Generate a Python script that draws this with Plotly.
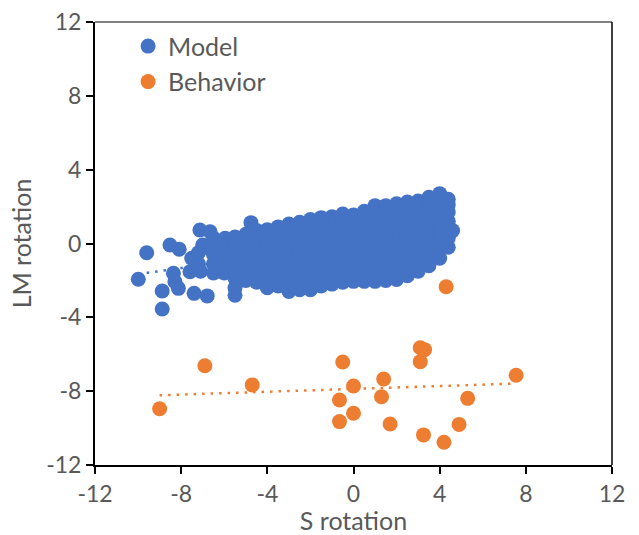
import numpy as np
import plotly.graph_objects as go

# ---- data ----
model_s = [
    -9.99, -9.60, -8.52, -8.09, -8.36, -8.29, -8.88, -8.13, -8.88, -7.40, -6.79,
    -7.13, -6.66, -7.00, -7.51, -7.59, -7.20, -7.20, -7.10, -6.90, -4.76,
    -6.5, -6.5, -6.5, -6.5, -6.5,
    -6.0, -6.0, -6.0, -6.0, -5.96,
    -5.5, -5.5, -5.5, -5.5, -5.5, -5.5, -5.5, -5.5,
    -5.0, -5.0, -5.0, -5.0, -5.0, -5.0,
    -4.5, -4.5, -4.5, -4.5, -4.5, -4.5, -4.5,
    -4.0, -4.0, -4.0, -4.0, -4.0, -4.0, -4.0, -4.0,
    -3.5, -3.5, -3.5, -3.5, -3.5, -3.5, -3.5, -3.5,
    -3.0, -3.0, -3.0, -3.0, -3.0, -3.0, -3.0, -3.0, -3.0,
    -2.5, -2.5, -2.5, -2.5, -2.5, -2.5, -2.5, -2.5, -2.5,
    -2.0, -2.0, -2.0, -2.0, -2.0, -2.0, -2.0, -2.0, -2.0,
    -1.5, -1.5, -1.5, -1.5, -1.5, -1.5, -1.5, -1.5, -1.5,
    -1.0, -1.0, -1.0, -1.0, -1.0, -1.0, -1.0, -1.0, -1.0,
    -0.5, -0.5, -0.5, -0.5, -0.5, -0.5, -0.5, -0.5, -0.5,
    0.0, 0.0, 0.0, 0.0, 0.0, 0.0, 0.0, 0.0, 0.0,
    0.5, 0.5, 0.5, 0.5, 0.5, 0.5, 0.5, 0.5, 0.5,
    1.0, 1.0, 1.0, 1.0, 1.0, 1.0, 1.0, 1.0, 1.0, 1.0,
    1.5, 1.5, 1.5, 1.5, 1.5, 1.5, 1.5, 1.5, 1.5, 1.5,
    2.0, 2.0, 2.0, 2.0, 2.0, 2.0, 2.0, 2.0, 2.0, 2.0,
    2.5, 2.5, 2.5, 2.5, 2.5, 2.5, 2.5, 2.5, 2.5,
    3.0, 3.0, 3.0, 3.0, 3.0, 3.0, 3.0, 3.0, 3.0,
    3.5, 3.5, 3.5, 3.5, 3.5, 3.5, 3.5, 3.5, 3.5,
    4.0, 4.0, 4.0, 4.0, 4.0, 4.0, 4.0, 4.0,
    4.4, 4.4, 4.4, 4.4, 4.4, 4.4, 4.4,
    4.6,
]
model_lm = [
    -1.94, -0.50, -0.08, -0.31, -1.61, -2.07, -2.57, -2.43, -3.55, -2.70, -2.84,
    0.73, 0.64, -0.08, -0.80, -1.53, -0.50, -1.10, -1.50, -0.20, 1.13,
    -1.6, -1.1, -0.6, -0.1, 0.3,
    -1.6, -1.1, -0.6, -0.1, 0.28,
    -2.8, -2.4, -1.9, -1.4, -0.9, -0.4, 0.1, 0.35,
    -2.0, -1.5, -1.0, -0.5, 0.0, 0.5,
    -2.1, -1.6, -1.1, -0.6, -0.1, 0.4, 0.7,
    -2.4, -1.9, -1.4, -0.9, -0.4, 0.1, 0.5, 0.75,
    -2.3, -1.8, -1.3, -0.8, -0.3, 0.2, 0.6, 0.9,
    -2.6, -2.1, -1.6, -1.1, -0.6, -0.1, 0.4, 0.8, 1.05,
    -2.5, -2.0, -1.5, -1.0, -0.5, 0.0, 0.5, 0.9, 1.15,
    -2.5, -2.0, -1.5, -1.0, -0.5, 0.0, 0.5, 1.0, 1.3,
    -2.3, -1.8, -1.3, -0.8, -0.3, 0.2, 0.7, 1.1, 1.4,
    -2.2, -1.7, -1.2, -0.7, -0.2, 0.3, 0.8, 1.2, 1.45,
    -2.1, -1.6, -1.1, -0.6, -0.1, 0.4, 0.9, 1.3, 1.6,
    -2.05, -1.55, -1.05, -0.55, -0.05, 0.45, 0.95, 1.3, 1.55,
    -2.05, -1.55, -1.05, -0.55, -0.05, 0.45, 0.95, 1.4, 1.75,
    -2.05, -1.55, -1.05, -0.55, -0.05, 0.45, 0.95, 1.45, 1.85, 2.05,
    -2.0, -1.5, -1.0, -0.5, 0.0, 0.5, 1.0, 1.5, 1.9, 2.05,
    -1.95, -1.45, -0.95, -0.45, 0.05, 0.55, 1.05, 1.55, 1.95, 2.15,
    -1.75, -1.25, -0.75, -0.25, 0.25, 0.75, 1.25, 1.75, 2.25,
    -1.5, -1.0, -0.5, 0.0, 0.5, 1.0, 1.5, 2.0, 2.3,
    -1.2, -0.7, -0.2, 0.3, 0.8, 1.3, 1.8, 2.3, 2.5,
    -0.8, -0.3, 0.2, 0.7, 1.2, 1.7, 2.2, 2.7,
    -0.2, 0.3, 0.7, 1.2, 1.7, 2.1, 2.4,
    0.7,
]

behavior_s = [4.3, 3.1, 3.3, 3.1, -0.5, 7.55, 1.4, 0.0, 1.3, -0.65, 5.3,
              0.0, -0.65, 1.7, 4.9, 3.25, 4.2, -6.9, -4.7, -9.0]
behavior_lm = [-2.34, -5.65, -5.75, -6.4, -6.42, -7.14, -7.34, -7.72, -8.3, -8.48, -8.39,
               -9.2, -9.65, -9.78, -9.8, -10.37, -10.77, -6.62, -7.66, -8.95]

x_ticks = [-12, -8, -4, 0, 4, 8, 12]
y_ticks = [-12, -8, -4, 0, 4, 8, 12]

BLUE = "#4472C4"
ORANGE = "#ED7D31"
TXT = "#595959"
FONT = "Lato"


def trend(xs, ys):
    xs = np.asarray(xs, float)
    ys = np.asarray(ys, float)
    k, b = np.polyfit(xs, ys, 1)
    xr = np.array([xs.min(), xs.max()])
    return xr, k * xr + b


fig = go.Figure()

fig.add_trace(go.Scatter(x=model_s, y=model_lm, mode="markers", name="Model",
                         marker=dict(color=BLUE, size=15, line=dict(width=0))))
fig.add_trace(go.Scatter(x=behavior_s, y=behavior_lm, mode="markers", name="Behavior",
                         marker=dict(color=ORANGE, size=15, line=dict(width=0))))

tx, ty = trend(model_s, model_lm)
fig.add_trace(go.Scatter(x=tx, y=ty, mode="lines", showlegend=False, hoverinfo="skip",
                         line=dict(color=BLUE, width=2.5, dash="2.5px,6px")))
tx, ty = trend(behavior_s, behavior_lm)
fig.add_trace(go.Scatter(x=tx, y=ty, mode="lines", showlegend=False, hoverinfo="skip",
                         line=dict(color=ORANGE, width=2.5, dash="2.5px,6px")))

axis_common = dict(
    range=[-12, 12], tickmode="array", showgrid=False, zeroline=False,
    showline=True, linecolor="black", linewidth=2, automargin=False,
    ticks="outside", ticklen=7, tickwidth=2, tickcolor="black",
    tickfont=dict(family=FONT, size=23, color=TXT),
)

fig.update_layout(
    width=639, height=535,
    margin=dict(l=95, r=27, t=22, b=70),
    paper_bgcolor="white", plot_bgcolor="white",
    font=dict(family=FONT, color=TXT),
    xaxis=dict(**axis_common, tickvals=x_ticks, ticktext=[str(v) for v in x_ticks],
               title=dict(text="S rotation", font=dict(family=FONT, size=25, color=TXT), standoff=10)),
    yaxis=dict(**axis_common, tickvals=y_ticks, ticktext=[str(v) for v in y_ticks],
               title=dict(text="LM rotation", font=dict(family=FONT, size=25, color=TXT), standoff=7)),
    legend=dict(x=0.064, y=0.997, xanchor="left", yanchor="top",
                bgcolor="rgba(0,0,0,0)", font=dict(family=FONT, size=25, color=TXT),
                itemsizing="trace", tracegroupgap=0),
    showlegend=True,
    shapes=[
        dict(type="line", xref="paper", yref="paper", x0=0, x1=1, y0=1, y1=1,
             line=dict(color="#808080", width=2)),
        dict(type="line", xref="paper", yref="paper", x0=1, x1=1, y0=0, y1=1,
             line=dict(color="black", width=1.5)),
    ],
)

# remove the browser's default page margin so the figure sits at the window origin
fig.write_html(
    "out.html",
    config={"displayModeBar": False},
    post_script="document.body.style.margin='0';document.body.style.overflow='hidden';window.scrollTo(0,0);",
)
